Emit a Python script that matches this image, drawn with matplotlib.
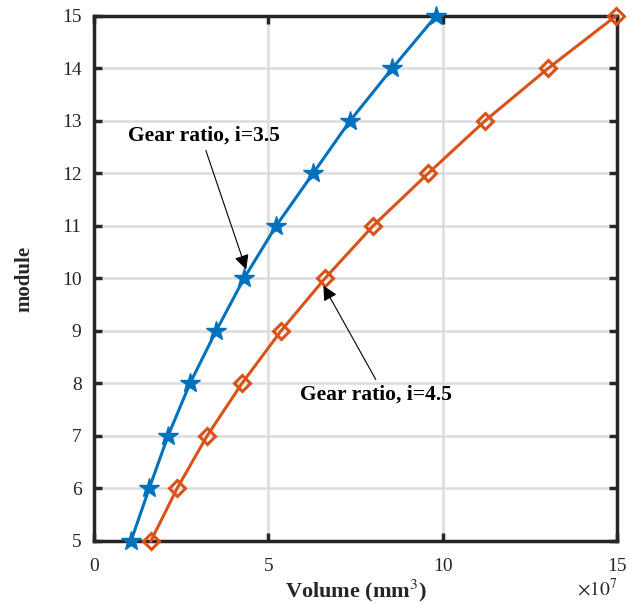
import matplotlib
matplotlib.use("Agg")
import matplotlib.pyplot as plt

# module values (y) and volume in 1e7 mm^3 (x)
module = [5, 6, 7, 8, 9, 10, 11, 12, 13, 14, 15]
vol_35 = [1.06, 1.58, 2.12, 2.75, 3.50, 4.30, 5.22, 6.28, 7.34, 8.55, 9.81]
vol_45 = [1.63, 2.38, 3.24, 4.24, 5.36, 6.62, 8.00, 9.58, 11.21, 13.02, 14.97]

x_ticks = [0, 5, 10, 15]
y_ticks = list(range(5, 16))

plt.rcParams['font.family'] = ['Liberation Serif', 'DejaVu Serif']
plt.rcParams['mathtext.fontset'] = 'stix'

fig = plt.figure(figsize=(6.4, 6.05), dpi=100)
ax = fig.add_axes([0.147, 0.1058, 0.817, 0.8678])

ax.plot(vol_35, module, color='#0072BD', lw=2.2, marker='*', ms=15,
        clip_on=False, zorder=3)
ax.plot(vol_45, module, color='#D95319', lw=2.2, marker='D', ms=8,
        mfc='none', mew=2.2, clip_on=False, zorder=3)

ax.set_xlim(0, 15)
ax.set_ylim(5, 15)
ax.set_xticks(x_ticks)
ax.set_yticks(y_ticks)
ax.grid(True, color='#dcdcdc', lw=1.8)
ax.set_axisbelow(True)
ax.tick_params(direction='in', length=6, width=2.5, labelsize=14,
               top=True, right=True, colors='#262626', labelcolor='#262626')
ax.tick_params(axis='x', pad=12)
ax.tick_params(axis='y', pad=9)
for s in ax.spines.values():
    s.set_linewidth(2.5)
    s.set_color('#262626')

ax.set_xlabel('Volume (mm$^3$)', fontsize=16, fontweight='bold', labelpad=2,
              color='#262626')
ax.set_ylabel('module', fontsize=15, fontweight='bold', labelpad=20,
              color='#262626')
ax.text(1.0, -0.07, r'$\times10^7$', transform=ax.transAxes, ha='right',
        va='top', fontsize=14, color='#262626')

arrow = dict(arrowstyle='-|>', lw=0.8, color='k', mutation_scale=22)
ax.text(0.98, 12.73, 'Gear ratio, i=3.5', fontsize=15.5, fontweight='bold',
        va='center', ha='left')
ax.annotate('', xy=(4.39, 10.12), xytext=(3.18, 12.49), arrowprops=arrow)
ax.text(5.91, 7.78, 'Gear ratio, i=4.5', fontsize=15.5, fontweight='bold',
        va='center', ha='left')
ax.annotate('', xy=(6.54, 9.91), xytext=(8.12, 8.03), arrowprops=arrow)

fig.savefig('out.png', dpi=100)
